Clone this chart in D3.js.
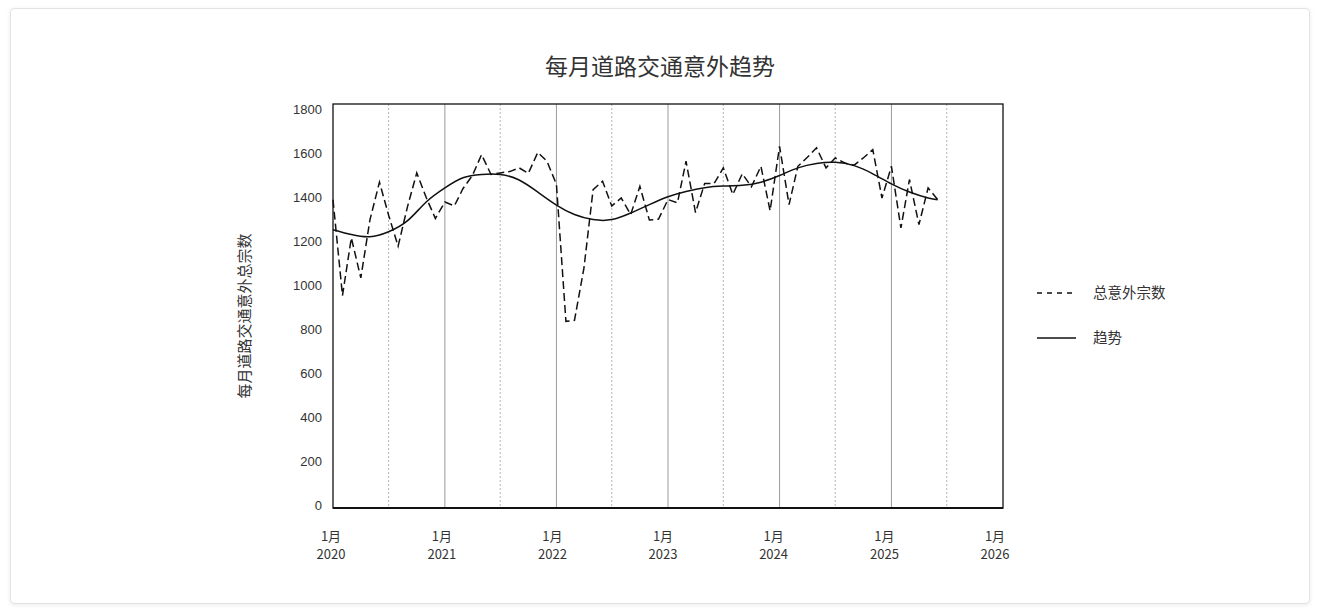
<!DOCTYPE html>
<html>
<head>
<meta charset="utf-8">
<script src="https://cdn.jsdelivr.net/npm/d3@7"></script>
<style>
  body { margin: 0; background: #fff; }
  .card { position: absolute; left: 10px; top: 8px; width: 1298px; height: 594px;
          border: 1px solid #e3e3e3; border-radius: 4px; box-shadow: 0 1px 4px rgba(0,0,0,0.08); }
  svg { position: absolute; left: 0; top: 0; }
  text { font-family: "Noto Sans CJK SC", "Noto Sans", sans-serif; fill: #333; }
</style>
</head>
<body>
<div class="card"></div>
<script>
// monthly accident totals, Jan 2020 - Jun 2025
var startYear = 2020, startMonth = 0;
var totals = [
    1390, 955, 1217, 1035, 1300, 1470, 1320, 1179, 1360, 1512, 1400, 1305,
    1380, 1362, 1440, 1500, 1595, 1505, 1512, 1518, 1535, 1510, 1605, 1565,
    1460, 838, 842, 1080, 1436, 1474, 1362, 1398, 1323, 1451, 1298, 1302,
    1391, 1376, 1565, 1332, 1464, 1464, 1535, 1414, 1508, 1449, 1542, 1340,
    1633, 1368, 1542, 1583, 1626, 1535, 1580, 1557, 1547, 1580, 1618, 1398,
    1542, 1262, 1482, 1277, 1444, 1391
];

// trend read every second month (month index from Jan 2020)
var trendMonths = [0, 2, 4, 6, 8, 10, 12, 14, 16, 18, 20, 22, 24, 26, 28, 30, 32,
    34, 36, 38, 40, 42, 44, 46, 48, 50, 52, 54, 56, 58, 60, 62, 64, 65];
var trendValues = [1254, 1232, 1222, 1245, 1295, 1380, 1444, 1490, 1505, 1505, 1480,
    1425, 1366, 1323, 1300, 1300, 1330, 1368, 1404, 1428, 1445, 1452, 1456, 1470,
    1500, 1535, 1555, 1560, 1545, 1508, 1462, 1425, 1398, 1390];

var yTicks = [0, 200, 400, 600, 800, 1000, 1200, 1400, 1600, 1800];
var legendLabels = ["总意外宗数", "趋势"];
var titleText = "每月道路交通意外趋势";
var yTitle = "每月道路交通意外总宗数";

window.onload = function(){
    var w = 1320, h = 616;
    var svg = d3.select("body").append("svg")
        .attr("width", w)
        .attr("height", h);

    function monthDate(i){
        return new Date(startYear, startMonth + i, 1);
    }

    var x = d3.scaleTime()
        .domain([new Date(2020, 0, 1), new Date(2026, 0, 1)])
        .range([333, 1003]);

    // tick labels sit on a slightly narrower band than the grid
    var xLab = x.copy().range([331, 995]);

    var y = d3.scaleLinear()
        .domain([-10, 1825])
        .range([508, 104]);

    var top = y(1825), bottom = y(-10);

    // title
    svg.append("text")
        .attr("x", 660)
        .attr("y", 75)
        .attr("text-anchor", "middle")
        .style("font-size", "23px")
        .text(titleText);

    // vertical grid: solid at January, dotted at July
    var years = d3.timeYear.range(new Date(2021, 0, 1), new Date(2026, 0, 1));
    var halves = d3.timeMonth.every(6).range(new Date(2020, 6, 1), new Date(2026, 0, 1))
        .filter(function(d){ return d.getMonth() === 6; });

    svg.selectAll(".gridYear")
        .data(years)
        .enter()
        .append("line")
        .attr("class", "gridYear")
        .attr("x1", function(d){ return x(d); })
        .attr("x2", function(d){ return x(d); })
        .attr("y1", top)
        .attr("y2", bottom)
        .style("stroke", "#9a9a9a")
        .style("stroke-width", 1);

    svg.selectAll(".gridHalf")
        .data(halves)
        .enter()
        .append("line")
        .attr("class", "gridHalf")
        .attr("x1", function(d){ return x(d); })
        .attr("x2", function(d){ return x(d); })
        .attr("y1", top)
        .attr("y2", bottom)
        .style("stroke", "#b5b5b5")
        .style("stroke-width", 1)
        .style("stroke-dasharray", "2,2");

    // plot frame
    svg.append("rect")
        .attr("x", x.range()[0])
        .attr("y", top)
        .attr("width", x.range()[1] - x.range()[0])
        .attr("height", bottom - top)
        .style("fill", "none")
        .style("stroke", "#111")
        .style("stroke-width", 1.3);

    svg.append("line")
        .attr("x1", x.range()[0])
        .attr("x2", x.range()[1])
        .attr("y1", bottom)
        .attr("y2", bottom)
        .style("stroke", "#111")
        .style("stroke-width", 2);

    // y tick labels
    svg.selectAll(".yLabel")
        .data(yTicks)
        .enter()
        .append("text")
        .attr("class", "yLabel")
        .attr("x", 322)
        .attr("y", function(d){ return y(d); })
        .attr("dy", "0.35em")
        .attr("text-anchor", "end")
        .style("font-family", "'Liberation Sans', Arial, sans-serif")
        .style("font-size", "13px")
        .text(function(d){ return d; });

    // x tick labels, two lines
    var xTicks = d3.timeYear.range(new Date(2020, 0, 1), new Date(2026, 0, 2));
    var xLabels = svg.selectAll(".xLabel")
        .data(xTicks)
        .enter()
        .append("text")
        .attr("class", "xLabel")
        .attr("text-anchor", "middle")
        .style("font-size", "13px");
    xLabels.append("tspan")
        .attr("x", function(d){ return xLab(d); })
        .attr("y", 541)
        .text(function(d){ return (d.getMonth() + 1) + "月"; });
    xLabels.append("tspan")
        .attr("x", function(d){ return xLab(d); })
        .attr("y", 559)
        .text(function(d){ return d.getFullYear(); });

    // y axis title
    svg.append("text")
        .attr("transform", "translate(250,316) rotate(-90)")
        .attr("text-anchor", "middle")
        .style("font-size", "15px")
        .text(yTitle);

    // total accidents, dashed
    var totalLine = d3.line()
        .x(function(d, i){ return x(monthDate(i)); })
        .y(function(d){ return y(d); });

    svg.append("path")
        .datum(totals)
        .attr("d", totalLine)
        .style("fill", "none")
        .style("stroke", "#111")
        .style("stroke-width", 1.5)
        .style("stroke-dasharray", "8,4");

    // smooth trend
    var trendLine = d3.line()
        .x(function(d, i){ return x(monthDate(trendMonths[i])); })
        .y(function(d){ return y(d); })
        .curve(d3.curveNatural);

    svg.append("path")
        .datum(trendValues)
        .attr("d", trendLine)
        .style("fill", "none")
        .style("stroke", "#111")
        .style("stroke-width", 1.5);

    // legend
    var legend = svg.selectAll(".legend")
        .data(legendLabels)
        .enter()
        .append("g")
        .attr("class", "legend")
        .attr("transform", function(d, i){ return "translate(1037," + (293 + i * 45) + ")"; });

    legend.append("line")
        .attr("x1", 0)
        .attr("x2", 39)
        .attr("y1", 0)
        .attr("y2", 0)
        .style("stroke", "#111")
        .style("stroke-width", 1.4)
        .style("stroke-dasharray", function(d, i){ return i === 0 ? "5,5" : null; });

    legend.append("text")
        .attr("x", 56)
        .attr("y", 0)
        .attr("dy", "0.35em")
        .style("font-size", "14.5px")
        .text(function(d){ return d; });
};
</script>
</body>
</html>
